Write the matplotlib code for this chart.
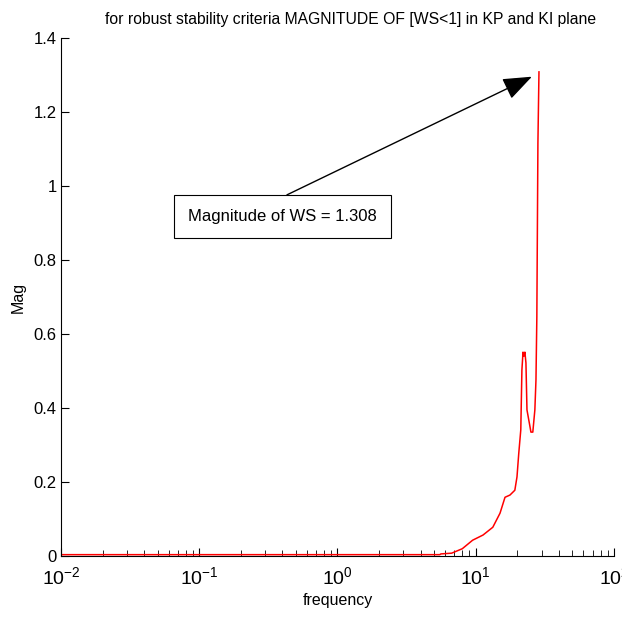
import numpy as np
import matplotlib.pyplot as plt

plt.rcParams['font.family'] = ['Liberation Sans', 'DejaVu Sans']
plt.rcParams['mathtext.fontset'] = 'custom'
plt.rcParams['mathtext.rm'] = 'Liberation Sans'
plt.rcParams['mathtext.it'] = 'Liberation Sans:italic'
plt.rcParams['axes.unicode_minus'] = False

# frequency (rad/s) and magnitude of WS
freq = [0.01, 0.1, 1.0, 5.5, 5.6, 6.7, 8.0, 9.5, 11.3, 13.3, 15.0, 16.3, 17.7,
        19.2, 19.9, 20.5, 21.2, 21.6, 22.0, 22.3, 22.7, 23.1, 23.5, 24.7,
        25.1, 25.9, 26.8, 27.3, 27.7, 28.2, 28.7]
mag = [0.004, 0.004, 0.004, 0.004, 0.006, 0.008, 0.02, 0.043, 0.057, 0.078,
       0.116, 0.159, 0.165, 0.178, 0.214, 0.278, 0.341, 0.503, 0.551, 0.54,
       0.551, 0.522, 0.395, 0.35, 0.335, 0.335, 0.395, 0.476, 0.646, 1.116,
       1.308]
peak = 1.308

fig = plt.figure(figsize=(6.22, 6.20), dpi=100)
ax = fig.add_axes([0.098, 0.103, 0.889, 0.836])

ax.semilogx(freq, mag, color='r', linewidth=1.1)
ax.set_xlim(1e-2, 1e2)
ax.set_ylim(0, 1.4)
ax.set_yticks(np.arange(0, 1.41, 0.2))
ax.set_yticklabels(['0', '0.2', '0.4', '0.6', '0.8', '1', '1.2', '1.4'])

ax.spines['top'].set_visible(False)
ax.spines['right'].set_visible(False)
ax.tick_params(direction='in', which='both', top=False, right=False)
ax.tick_params(axis='y', labelsize=12, pad=3)
ax.tick_params(axis='x', labelsize=14, pad=7)
ax.tick_params(which='major', length=6)
ax.tick_params(which='minor', length=4)

ax.set_title('for robust stability criteria MAGNITUDE OF [WS<1] in KP and KI plane',
             fontsize=11.3, x=0.523, pad=10)
ax.set_xlabel('frequency', fontsize=11.5, labelpad=4)
ax.set_ylabel('Mag', fontsize=11.5, labelpad=6)

# text box and arrow pointing to the peak
ax.text(0.401, 0.655, 'Magnitude of WS = %.3f' % peak, transform=ax.transAxes,
        fontsize=12, va='center', ha='center',
        bbox=dict(boxstyle='square,pad=0.85', fc='white', ec='black', lw=0.8))
ax.annotate('', xy=(25.5, 1.295), xytext=(0.4087, 0.697),
            textcoords='axes fraction',
            arrowprops=dict(arrowstyle='-|>,head_length=0.6,head_width=0.23',
                            color='black', lw=1, mutation_scale=30,
                            shrinkA=0, shrinkB=0))

fig.savefig('out.png', dpi=100)
